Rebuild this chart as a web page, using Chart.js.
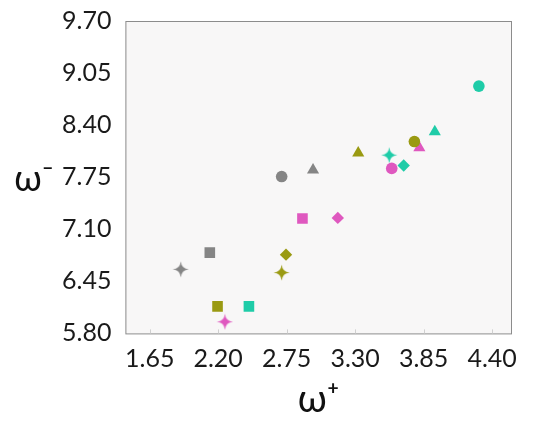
<!DOCTYPE html>
<html>
<head>
<meta charset="utf-8">
<script src="https://cdn.jsdelivr.net/npm/chart.js@4.4.0/dist/chart.umd.min.js"></script>
<style>
  html, body { margin: 0; padding: 0; background: #ffffff; }
  #wrap { width: 550px; height: 425px; }
</style>
</head>
<body>
<div id="wrap"><canvas id="scatterChart"></canvas></div>
<script>
// colour order for every shape array: gray, olive, pink, cyan
const seriesColors = ['#858585', '#9a9a12', '#df58bf', '#1fcca8'];

const circleX = [2.71, 3.776, 3.594, 4.294];
const circleY = [7.758, 8.195, 7.86, 8.887];
const triangleX = [2.962, 3.325, 3.816, 3.94];
const triangleY = [7.839, 8.052, 8.117, 8.317];
const squareX = [2.133, 2.195, 2.877, 2.447];
const squareY = [6.808, 6.138, 7.234, 6.138];
const diamondX = [null, 2.745, 3.161, 3.69];
const diamondY = [null, 6.783, 7.242, 7.896];
const starX = [1.90, 2.71, 2.254, 3.574];
const starY = [6.60, 6.559, 5.945, 8.025];

const xTicks = [1.65, 2.20, 2.75, 3.30, 3.85, 4.40];
const yTicks = [5.80, 6.45, 7.10, 7.75, 8.40, 9.05, 9.70];

// four pointed star marker drawn on a small canvas
function sparkle(color) {
    const c = document.createElement('canvas');
    c.width = 17; c.height = 17;
    const g = c.getContext('2d');
    const m = 8.5, r = 8, k = 0.7;
    g.fillStyle = color;
    g.beginPath();
    g.moveTo(m, m - r);
    g.quadraticCurveTo(m + k, m - k, m + r, m);
    g.quadraticCurveTo(m + k, m + k, m, m + r);
    g.quadraticCurveTo(m - k, m + k, m - r, m);
    g.quadraticCurveTo(m - k, m - k, m, m - r);
    g.fill();
    return c;
}

function buildSet(label, xs, ys, style, radius) {
    const pts = [], cols = [], styles = [];
    xs.forEach(function (x, i) {
        if (x === null) return;
        pts.push({ x: x, y: ys[i] });
        cols.push(seriesColors[i]);
        styles.push(style === 'sparkle' ? sparkle(seriesColors[i]) : style);
    });
    return {
        label: label,
        data: pts,
        pointStyle: styles,
        pointRadius: radius,
        pointHoverRadius: radius,
        pointBackgroundColor: cols,
        pointBorderColor: cols,
        pointBorderWidth: 0
    };
}

const framePlugin = {
    id: 'frame',
    beforeDatasetsDraw: function (chart) {
        const a = chart.chartArea, ctx = chart.ctx;
        ctx.save();
        ctx.fillStyle = '#f8f7f7';
        ctx.fillRect(a.left, a.top, a.right - a.left, a.bottom - a.top);
        ctx.restore();
    },
    afterDraw: function (chart) {
        const a = chart.chartArea, ctx = chart.ctx;
        ctx.save();
        ctx.strokeStyle = '#8c8c8c';
        ctx.lineWidth = 1;
        ctx.strokeRect(a.left + 0.5, a.top + 0.5, a.right - a.left - 1, a.bottom - a.top);
        // small inside ticks on the x axis
        ctx.strokeStyle = '#d0d0d0';
        xTicks.forEach(function (t) {
            const px = Math.round(chart.scales.x.getPixelForValue(t)) + 0.5;
            ctx.beginPath();
            ctx.moveTo(px, a.bottom);
            ctx.lineTo(px, a.bottom - 4);
            ctx.stroke();
        });
        // horizontal y axis title
        ctx.fillStyle = '#111111';
        ctx.font = '36px Lato';
        ctx.textAlign = 'center';
        ctx.textBaseline = 'middle';
        ctx.fillText('\u03c9\u207b', 34, (a.top + a.bottom) / 2 + 2);
        ctx.restore();
    }
};

new Chart(document.getElementById('scatterChart'), {
    type: 'scatter',
    data: {
        datasets: [
            buildSet('circle', circleX, circleY, 'circle', 5.8),
            buildSet('triangle', triangleX, triangleY, 'triangle', 7),
            buildSet('square', squareX, squareY, 'rect', 7.5),
            buildSet('diamond', diamondX, diamondY, 'rectRot', 6.2),
            buildSet('star', starX, starY, 'sparkle', 8)
        ]
    },
    options: {
        responsive: true,
        maintainAspectRatio: false,
        animation: false,
        layout: { padding: { left: 56, right: 38, top: 0, bottom: 2 } },
        plugins: {
            legend: { display: false },
            tooltip: { enabled: false }
        },
        scales: {
            x: {
                type: 'linear',
                min: 1.455,
                max: 4.56,
                afterBuildTicks: function (axis) {
                    axis.ticks = xTicks.map(function (v) { return { value: v }; });
                },
                ticks: {
                    color: '#1a1a1a',
                    font: { family: 'Lato', size: 25 },
                    padding: 3,
                    callback: function (v) { return v.toFixed(2); }
                },
                grid: { display: false },
                border: { display: false },
                title: {
                    display: true,
                    text: '\u03c9\u207a',
                    color: '#111111',
                    font: { family: 'Lato', size: 38 },
                    padding: { top: 0, bottom: 0 }
                }
            },
            y: {
                type: 'linear',
                min: 5.80,
                max: 9.70,
                afterBuildTicks: function (axis) {
                    axis.ticks = yTicks.map(function (v) { return { value: v }; });
                },
                ticks: {
                    color: '#1a1a1a',
                    font: { family: 'Lato', size: 25 },
                    padding: 6,
                    callback: function (v) { return v.toFixed(2); }
                },
                grid: { display: false },
                border: { display: false }
            }
        }
    },
    plugins: [framePlugin]
});
</script>
</body>
</html>
